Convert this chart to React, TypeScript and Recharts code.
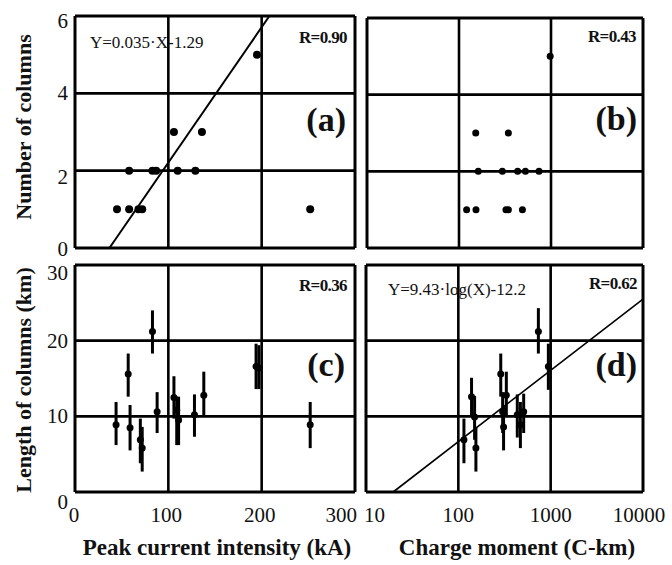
import { ScatterChart, Scatter, XAxis, YAxis, ReferenceLine, ErrorBar } from "recharts"

// ---- data ----
// (a) peak current vs number of columns
const peakA = [45, 58, 58, 68, 72, 83, 87, 106, 110, 129, 136, 195, 252]
const columnsA = [1, 1, 2, 1, 1, 2, 2, 3, 2, 2, 3, 5, 1]

// (b) charge moment vs number of columns
const momentB = [121, 153, 162, 152, 296, 324, 344, 344, 434, 489, 527, 741, 980]
const columnsB = [1, 1, 2, 3, 2, 1, 1, 3, 2, 1, 2, 2, 5]

// (c) peak current vs column length (km), with error bars
const peakC = [44, 57, 59, 70, 72, 83, 88, 106, 109, 111, 128, 138, 194, 197, 252]
const lengthC = [8.9, 15.6, 8.5, 6.9, 5.8, 21.2, 10.6, 12.5, 10.8, 9.5, 10.2, 12.8, 16.6, 16.4, 8.9]
const errLowC = [2.7, 3.0, 3.0, 3.1, 3.1, 2.9, 2.8, 2.8, 4.6, 3.3, 2.9, 2.8, 3.0, 2.8, 3.1]
const errHighC = [3.0, 2.7, 3.0, 2.8, 2.8, 2.8, 2.6, 2.8, 1.8, 3.1, 2.7, 3.1, 3.0, 3.0, 3.0]

// (d) charge moment vs column length (km), with error bars
const momentD = [115, 139, 150, 155, 288, 302, 309, 331, 435, 470, 510, 736, 944]
const lengthD = [6.9, 12.6, 9.9, 5.8, 15.6, 10.6, 8.6, 12.8, 10.2, 8.9, 10.6, 21.2, 16.6]
const errLowD = [3.1, 2.6, 3.0, 3.1, 3.0, 2.8, 3.1, 2.8, 3.0, 3.1, 2.8, 2.9, 3.1]
const errHighD = [2.8, 2.5, 2.8, 2.8, 2.7, 2.6, 2.9, 3.1, 2.7, 3.0, 2.4, 3.1, 3.0]

// regression line end points
const fitAX = [36.9, 208.3]
const fitAY = [0, 6]
const fitDX = [19.7, 10000]
const fitDY = [0, 25.5]

// axes
const peakTicks = [0, 100, 200, 300]
const momentTicks = [10, 100, 1000, 10000]
const columnTicks = [0, 2, 4, 6]
const lengthTicks = [0, 10, 20, 30]

const FONT = '"Liberation Serif", "Times New Roman", serif'
const INK = "#111"

const rowsA = peakA.map((x, i) => ({ x, y: columnsA[i] }))
const rowsB = momentB.map((x, i) => ({ x, y: columnsB[i] }))
const rowsC = peakC.map((x, i) => ({ x, y: lengthC[i], err: [errLowC[i], errHighC[i]] }))
const rowsD = momentD.map((x, i) => ({ x, y: lengthD[i], err: [errLowD[i], errHighD[i]] }))

const dot = (r: number) => (p: any) => <circle cx={p.cx} cy={p.cy} r={r} fill="#000" />

function gridLines(xs: number[], ys: number[]) {
  const edge = (a: number[], i: number) => i === 0 || i === a.length - 1
  return [
    ...xs.map((v, i) => (
      <ReferenceLine key={"x" + v} x={v} stroke="#000" strokeWidth={edge(xs, i) ? 3 : 2.6} ifOverflow="visible" />
    )),
    ...ys.map((v, i) => (
      <ReferenceLine key={"y" + v} y={v} stroke="#000" strokeWidth={edge(ys, i) ? 3 : 2.6} ifOverflow="visible" />
    )),
  ]
}

// y tick labels, nudged the way the original figure has them
const yTick = (nudge: Record<number, number>) => (p: any) => (
  <text
    x={p.x - 7}
    y={p.y + (nudge[p.payload.value] ?? 0) + 7}
    textAnchor="end"
    fontFamily={FONT}
    fontSize={21}
    fill={INK}
  >
    {p.payload.value}
  </text>
)

const peakTick = (p: any) => {
  const v = p.payload.value
  const isLast = v === 300
  return (
    <text
      x={isLast ? p.x + 2 : v === 0 ? p.x - 1 : p.x - 2}
      y={p.y + 30}
      textAnchor={isLast ? "end" : "middle"}
      fontFamily={FONT}
      fontSize={21}
      fill={INK}
    >
      {v}
    </text>
  )
}

const momentTick = (p: any) => {
  const v = p.payload.value
  const isFirst = v === 10
  return (
    <text
      x={isFirst ? p.x - 2 : v === 10000 ? p.x - 4 : p.x}
      y={p.y + 30}
      textAnchor={isFirst ? "start" : "middle"}
      fontFamily={FONT}
      fontSize={21}
      fill={INK}
    >
      {v}
    </text>
  )
}

const box = (left: number, top: number) => ({ position: "absolute" as const, left, top })

export default function App() {
  return (
    <div style={{ position: "absolute", left: 0, top: 0, width: 672, height: 565, background: "#fff" }}>
      {/* (c) */}
      <div style={box(0, 250)}>
        <ScatterChart width={360} height={315} margin={{ top: 15, right: 5, bottom: 0, left: 0 }}>
          <XAxis
            type="number"
            dataKey="x"
            domain={[0, 300]}
            ticks={peakTicks}
            interval={0}
            height={73}
            axisLine={false}
            tickLine={false}
            tickSize={0}
            tickMargin={0}
            tick={peakTick}
            allowDataOverflow
          />
          <YAxis
            type="number"
            dataKey="y"
            domain={[0, 30]}
            ticks={lengthTicks}
            interval={0}
            width={75}
            axisLine={false}
            tickLine={false}
            tickSize={0}
            tickMargin={0}
            tick={yTick({ 0: 10, 10: 0, 20: 0, 30: 8 })}
            allowDataOverflow
          />
          {gridLines(peakTicks, lengthTicks)}
          <Scatter data={rowsC} shape={dot(3.5)} isAnimationActive={false}>
            <ErrorBar dataKey="err" direction="y" width={0} stroke="#000" strokeWidth={3} isAnimationActive={false} />
          </Scatter>
        </ScatterChart>
      </div>

      {/* (d) */}
      <div style={box(360, 250)}>
        <ScatterChart width={312} height={315} margin={{ top: 15, right: 29, bottom: 0, left: 6 }}>
          <XAxis
            type="number"
            dataKey="x"
            scale="log"
            domain={[10, 10000]}
            ticks={momentTicks}
            interval={0}
            height={73}
            axisLine={false}
            tickLine={false}
            tickSize={0}
            tickMargin={0}
            tick={momentTick}
            allowDataOverflow
          />
          <YAxis type="number" dataKey="y" domain={[0, 30]} ticks={lengthTicks} hide allowDataOverflow />
          {gridLines(momentTicks, lengthTicks)}
          <ReferenceLine
            segment={[
              { x: fitDX[0], y: fitDY[0] },
              { x: fitDX[1], y: fitDY[1] },
            ]}
            stroke="#000"
            strokeWidth={1.6}
            ifOverflow="visible"
          />
          <Scatter data={rowsD} shape={dot(3.5)} isAnimationActive={false}>
            <ErrorBar dataKey="err" direction="y" width={0} stroke="#000" strokeWidth={3} isAnimationActive={false} />
          </Scatter>
        </ScatterChart>
      </div>

      {/* (a) */}
      <div style={box(0, 0)}>
        <ScatterChart width={360} height={264} margin={{ top: 16, right: 5, bottom: 16, left: 0 }}>
          <XAxis type="number" dataKey="x" domain={[0, 300]} ticks={peakTicks} hide allowDataOverflow />
          <YAxis
            type="number"
            dataKey="y"
            domain={[0, 6]}
            ticks={columnTicks}
            interval={0}
            width={75}
            axisLine={false}
            tickLine={false}
            tickSize={0}
            tickMargin={0}
            tick={yTick({ 0: 1, 2: 6, 4: 0, 6: 5 })}
            allowDataOverflow
          />
          {gridLines(peakTicks, columnTicks)}
          <ReferenceLine
            segment={[
              { x: fitAX[0], y: fitAY[0] },
              { x: fitAX[1], y: fitAY[1] },
            ]}
            stroke="#000"
            strokeWidth={2}
            ifOverflow="visible"
          />
          <Scatter data={rowsA} shape={dot(4)} isAnimationActive={false} />
        </ScatterChart>
      </div>

      {/* (b) */}
      <div style={box(360, 0)}>
        <ScatterChart width={312} height={264} margin={{ top: 18, right: 29, bottom: 16, left: 7 }}>
          <XAxis type="number" dataKey="x" scale="log" domain={[10, 10000]} ticks={momentTicks} hide allowDataOverflow />
          <YAxis type="number" dataKey="y" domain={[0, 6]} ticks={columnTicks} hide allowDataOverflow />
          {gridLines(momentTicks, columnTicks)}
          <Scatter data={rowsB} shape={dot(3.5)} isAnimationActive={false} />
        </ScatterChart>
      </div>

      {/* labels */}
      <svg width={672} height={565} style={{ position: "absolute", left: 0, top: 0, pointerEvents: "none" }} fontFamily={FONT} fill={INK}>
        <text x={90} y={48} fontSize={17}>Y=0.035·X-1.29</text>
        <text x={347} y={43} fontSize={17} fontWeight="bold" textAnchor="end" letterSpacing={-0.6}>R=0.90</text>
        <text x={346} y={131} fontSize={34} fontWeight="bold" textAnchor="end">(a)</text>

        <text x={636} y={42} fontSize={17} fontWeight="bold" textAnchor="end" letterSpacing={-0.6}>R=0.43</text>
        <text x={637} y={130} fontSize={34} fontWeight="bold" textAnchor="end">(b)</text>

        <text x={347} y={291} fontSize={17} fontWeight="bold" textAnchor="end" letterSpacing={-0.6}>R=0.36</text>
        <text x={345} y={376} fontSize={34} fontWeight="bold" textAnchor="end">(c)</text>

        <text x={388} y={295} fontSize={17}>Y=9.43·log(X)-12.2</text>
        <text x={637} y={289} fontSize={17} fontWeight="bold" textAnchor="end" letterSpacing={-0.6}>R=0.62</text>
        <text x={637} y={376} fontSize={34} fontWeight="bold" textAnchor="end">(d)</text>

        <text x={217} y={555} fontSize={23} fontWeight="bold" textAnchor="middle">Peak current intensity (kA)</text>
        <text x={517} y={555} fontSize={23} fontWeight="bold" textAnchor="middle">Charge moment (C-km)</text>

        <text transform="translate(31,127) rotate(-90)" fontSize={22} fontWeight="bold" textAnchor="middle">Number of columns</text>
        <text transform="translate(31,380) rotate(-90)" fontSize={22} fontWeight="bold" textAnchor="middle">Length of columns (km)</text>
      </svg>
    </div>
  )
}
